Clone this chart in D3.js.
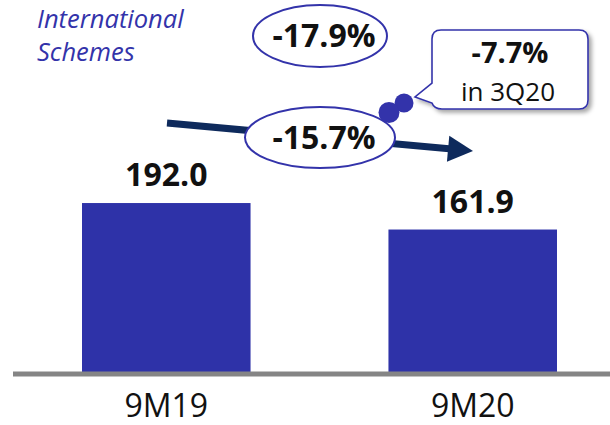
<!DOCTYPE html>
<html>
<head>
<meta charset="utf-8">
<script src="https://cdn.jsdelivr.net/npm/d3@7"></script>
<style>
  html, body { margin: 0; padding: 0; background: #fff; }
  svg { display: block; }
  text { font-family: "Open Sans", "Noto Sans", sans-serif; }
</style>
</head>
<body>
<svg id="chart" width="610" height="425"></svg>
<script>
const titleLines = ["International", "Schemes"];
const categories = ["9M19", "9M20"];
const values = [192.0, 161.9];
const valueLabels = ["192.0", "161.9"];
const changeTotal = "-17.9%";
const changeTrend = "-15.7%";
const calloutLines = ["-7.7%", "in 3Q20"];

const barColor = "#2E32A8";
const accent = "#3333AA";
const arrowColor = "#0E2A5C";

const svg = d3.select("#chart");

const x = d3.scaleBand().domain(categories).range([82, 557]).paddingInner(0.45).paddingOuter(0);
const y = d3.scaleLinear().domain([0, 200]).range([372, 196]);

// title
svg.append("g").selectAll("text").data(titleLines).join("text")
  .attr("x", 37).attr("y", (d, i) => 28 + i * 33)
  .attr("font-size", 25.5).attr("font-style", "italic")
  .attr("fill", accent).text(d => d);

// bars
svg.append("g").selectAll("rect").data(values).join("rect")
  .attr("x", (d, i) => x(categories[i]))
  .attr("width", x.bandwidth())
  .attr("y", d => y(d))
  .attr("height", d => y(0) - y(d))
  .attr("fill", barColor);

// baseline axis
const axis = svg.append("g").attr("transform", `translate(0,${y(0) + 2})`)
  .call(d3.axisBottom(x).tickSize(0).tickPadding(0));
axis.select(".domain").remove();
axis.append("line").attr("x1", 13).attr("x2", 610).attr("y1", 0).attr("y2", 0)
  .attr("stroke", "#858585").attr("stroke-width", 5);
axis.selectAll(".tick text")
  .attr("y", 43).attr("dy", 0)
  .attr("font-size", 32).attr("fill", "#111")
  .attr("font-family", "'Open Sans', sans-serif");

// value labels
svg.append("g").selectAll("text").data(values).join("text")
  .attr("x", (d, i) => x(categories[i]) + x.bandwidth() / 2)
  .attr("y", d => y(d) - 17)
  .attr("text-anchor", "middle")
  .attr("font-size", 32).attr("font-weight", "bold").attr("fill", "#111")
  .text((d, i) => valueLabels[i]);

// trend arrow
const defs = svg.append("defs");
const f = defs.append("filter").attr("id", "shadow").attr("x", "-10%").attr("y", "-10%").attr("width", "130%").attr("height", "140%");
f.append("feDropShadow").attr("dx", 3).attr("dy", 3).attr("stdDeviation", 2).attr("flood-color", "#000").attr("flood-opacity", 0.35);

const a0 = [167, 123], a1 = [473, 151];
const ang = Math.atan2(a1[1] - a0[1], a1[0] - a0[0]);
const headLen = 25, headHalf = 13;
const bx = a1[0] - headLen * Math.cos(ang), by = a1[1] - headLen * Math.sin(ang);
svg.append("line").attr("x1", a0[0]).attr("y1", a0[1]).attr("x2", bx + 1).attr("y2", by)
  .attr("stroke", arrowColor).attr("stroke-width", 7);
svg.append("path")
  .attr("d", d3.line()([
    [a1[0], a1[1]],
    [bx - headHalf * Math.sin(ang), by + headHalf * Math.cos(ang)],
    [bx + headHalf * Math.sin(ang), by - headHalf * Math.cos(ang)]
  ]) + "Z")
  .attr("fill", arrowColor);

// ellipses
function ellipseLabel(cx, cy, rx, ry, label) {
  svg.append("ellipse").attr("cx", cx).attr("cy", cy).attr("rx", rx).attr("ry", ry)
    .attr("fill", "#fff").attr("stroke", accent).attr("stroke-width", 2);
  svg.append("text").attr("x", cx + 4).attr("y", cy + 11).attr("text-anchor", "middle")
    .attr("font-size", 32).attr("font-weight", "bold").attr("fill", "#111").text(label);
}
ellipseLabel(320, 36, 67, 31, changeTotal);
ellipseLabel(320, 137.5, 75, 30.5, changeTrend);

// callout box with tail
const bx0 = 432, bx1 = 588, by0 = 30, by1 = 109, r = 9;
const calloutPath = [
  `M${bx0 + r},${by0}`,
  `L${bx1 - r},${by0}`, `Q${bx1},${by0} ${bx1},${by0 + r}`,
  `L${bx1},${by1 - r}`, `Q${bx1},${by1} ${bx1 - r},${by1}`,
  `L${bx0 + 10},${by1}`,
  `Q${bx0 + 2},${by1} ${bx0},${by1 - 6}`,
  `L${415},${97}`,
  `L${bx0},${83}`,
  `L${bx0},${by0 + r}`, `Q${bx0},${by0} ${bx0 + r},${by0}`, "Z"
].join(" ");
svg.append("path").attr("d", calloutPath).attr("fill", "#fff")
  .attr("stroke", accent).attr("stroke-width", 1.6).attr("filter", "url(#shadow)");
svg.append("text").attr("x", 510).attr("y", 63).attr("text-anchor", "middle")
  .attr("font-size", 29).attr("font-weight", "bold").attr("fill", "#111").text(calloutLines[0]);
svg.append("text").attr("x", 508).attr("y", 101).attr("text-anchor", "middle")
  .attr("font-size", 26).attr("fill", "#111").text(calloutLines[1]);

// connector dots
svg.append("circle").attr("cx", 404).attr("cy", 103).attr("r", 9.5).attr("fill", accent);
svg.append("circle").attr("cx", 389).attr("cy", 112.5).attr("r", 10.5).attr("fill", accent);
</script>
</body>
</html>
